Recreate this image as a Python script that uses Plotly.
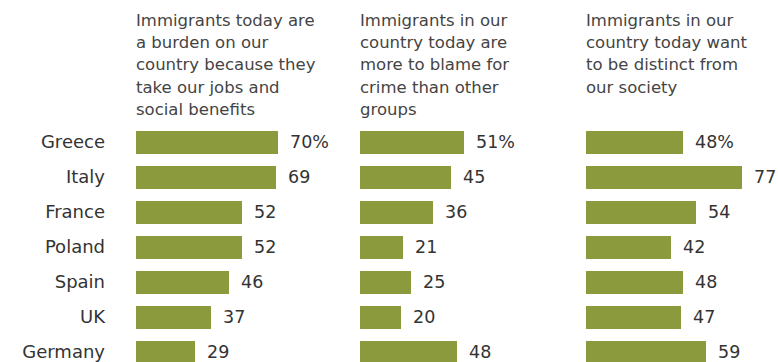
import plotly.graph_objects as go

# Survey results: share agreeing with each statement, by country
countries = ["Greece", "Italy", "France", "Poland", "Spain", "UK", "Germany"]
burden = [70, 69, 52, 52, 46, 37, 29]
crime = [51, 45, 36, 21, 25, 20, 48]
distinct = [48, 77, 54, 42, 48, 47, 59]

titles = [
    ["Immigrants today are", "a burden on our", "country because they",
     "take our jobs and", "social benefits"],
    ["Immigrants in our", "country today are", "more to blame for",
     "crime than other", "groups"],
    ["Immigrants in our", "country today want", "to be distinct from",
     "our society"],
]
series = [burden, crime, distinct]

W, H = 778, 362
BAR = "#8c9a3e"
TXT = "#333333"
FONT = "DejaVu Sans"

# panel geometry in pixels
panel_left = [136, 360, 586]
px_per_unit = 2.03
x_max = 90
row_pitch = 35
first_row_center = 142

fig = go.Figure()
axis_ids = ["x", "x2", "x3"]
for i, vals in enumerate(series):
    fig.add_trace(go.Bar(
        x=vals, y=countries, orientation="h",
        marker=dict(color=BAR, line=dict(width=0)),
        width=0.68, xaxis=axis_ids[i], yaxis="y",
        hoverinfo="skip", showlegend=False,
    ))

layout = dict(
    width=W, height=H,
    margin=dict(l=0, r=0, t=0, b=0),
    paper_bgcolor="white", plot_bgcolor="white",
    font=dict(family=FONT, color=TXT),
    bargap=0,
)

for i in range(3):
    key = "xaxis" if i == 0 else f"xaxis{i+1}"
    x0 = panel_left[i]
    x1 = x0 + x_max * px_per_unit
    layout[key] = dict(
        domain=[x0 / W, x1 / W], range=[0, x_max], anchor="y",
        showgrid=False, zeroline=False, showline=False,
        showticklabels=False, ticks="", fixedrange=True,
    )

top_px = first_row_center - row_pitch / 2
bottom_idx = (len(countries) - 1) + (H - (first_row_center + row_pitch * (len(countries) - 1))) / row_pitch
layout["yaxis"] = dict(
    domain=[0, 1 - top_px / H],
    type="category", categoryorder="array", categoryarray=countries,
    range=[bottom_idx, -0.5], anchor="x",
    showgrid=False, zeroline=False, showline=False, ticks="",
    ticklabelstandoff=30,
    tickfont=dict(family=FONT, size=18, color=TXT),
    fixedrange=True,
)
fig.update_layout(**layout)

annotations = []
# value labels beside each bar
for i, vals in enumerate(series):
    for j, (c, v) in enumerate(zip(countries, vals)):
        annotations.append(dict(
            x=v, y=c, xref=axis_ids[i], yref="y",
            text=f"{v}%" if j == 0 else f"{v}",
            showarrow=False, xanchor="left", yanchor="middle", xshift=10,
            font=dict(family=FONT, size=17.5, color=TXT),
        ))

# panel headings, one annotation per line
line_top = 20.5
line_step = 22.2
for i, lines in enumerate(titles):
    for k, line in enumerate(lines):
        annotations.append(dict(
            x=panel_left[i] / W, y=1 - (line_top + k * line_step) / H,
            xref="paper", yref="paper", text=line, showarrow=False,
            xanchor="left", yanchor="middle", xshift=-2,
            font=dict(family=FONT, size=16.5, color="#444444"),
        ))
fig.update_layout(annotations=annotations)

fig.write_html("out.html")
